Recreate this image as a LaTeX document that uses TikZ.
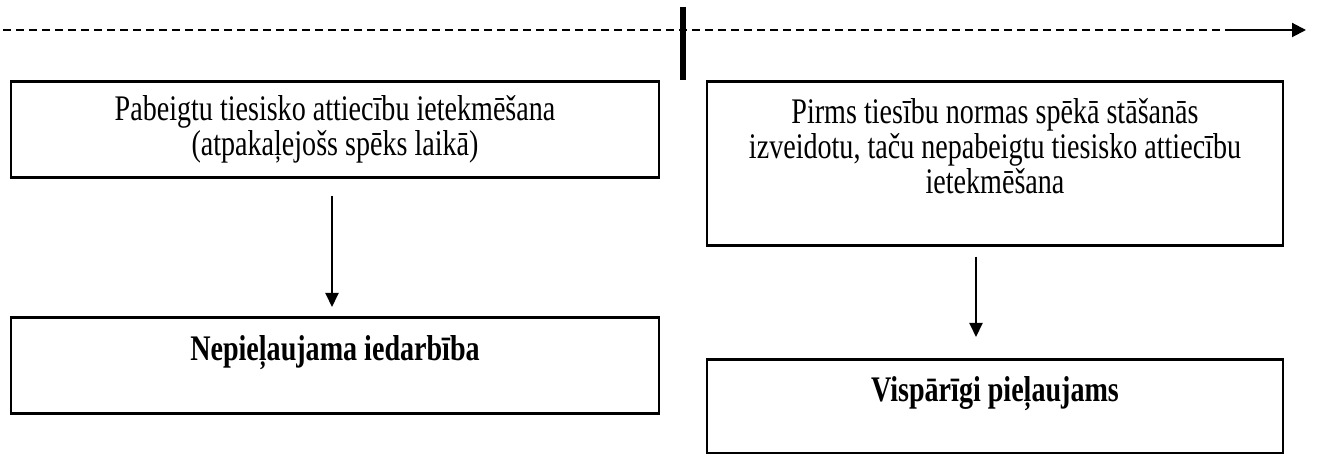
\documentclass[tikz,border=0pt]{standalone}
\usepackage{fontspec}
\setmainfont[FakeStretch=0.78]{Liberation Serif}
\usepackage{tikz}
\usetikzlibrary{arrows.meta, positioning, calc}
\tikzset{
    casebox/.style={rectangle, draw=black, line width=1.3pt, align=center, inner ysep=5pt, inner xsep=4pt, font=\fontsize{18}{17.5}\selectfont},
    downarrow/.style={line width=1pt, -{Triangle[length=7pt, width=6.5pt]}},
    timeline/.style={line width=1pt, dash pattern=on 4pt off 2.5pt}
}

\begin{document}
\begin{tikzpicture}[x=0.5pt, y=-0.5pt]
        \useasboundingbox (0,0) rectangle (1318,454);

        % Time axis
        \coordinate (tstart) at (3,30);
        \coordinate (tsolid) at (1233,30);
        \coordinate (tend) at (1306,30);
        \coordinate (bartop) at (683,7);
        \coordinate (barbot) at (683,80);
        \draw[timeline] (tstart) -- (tsolid);
        \draw[line width=1pt, -{Triangle[length=7pt, width=7pt]}] (tsolid) -- (tend);
        \draw[line width=3pt] (bartop) -- (barbot);

        % Finished relations
        \node (past) [casebox, minimum width=324pt, minimum height=48pt, anchor=north] at (335,80) {
            Pabeigtu tiesisko attiecību ietekmēšana \\
            (atpakaļejošs spēks laikā)
        };

        % Unfinished relations
        \node (open) [casebox, minimum width=288pt, minimum height=82pt, anchor=north] at (995,80) {
            Pirms tiesību normas spēkā stāšanās \\
            izveidotu, taču nepabeigtu tiesisko attiecību \\
            ietekmēšana \\
            \mbox{}
        };

        % Results
        \node (banned) [casebox, minimum width=324pt, minimum height=48pt, anchor=north] at (335,316) {
            \textbf{Nepieļaujama iedarbība} \\
            \mbox{}
        };
        \node (allowed) [casebox, minimum width=288pt, minimum height=47pt, anchor=north] at (995,358) {
            \textbf{Vispārīgi pieļaujams} \\
            \mbox{}
        };

        % Connections
        \draw[downarrow, shorten <=8.5pt, shorten >=4.5pt] ([xshift=-1.5pt]past.south) -- ([xshift=-1.5pt]banned.north);
        \draw[downarrow, shorten <=5pt, shorten >=10.5pt] ([xshift=-9.5pt]open.south) -- ([xshift=-9.5pt]allowed.north);
    \end{tikzpicture}
\end{document}
